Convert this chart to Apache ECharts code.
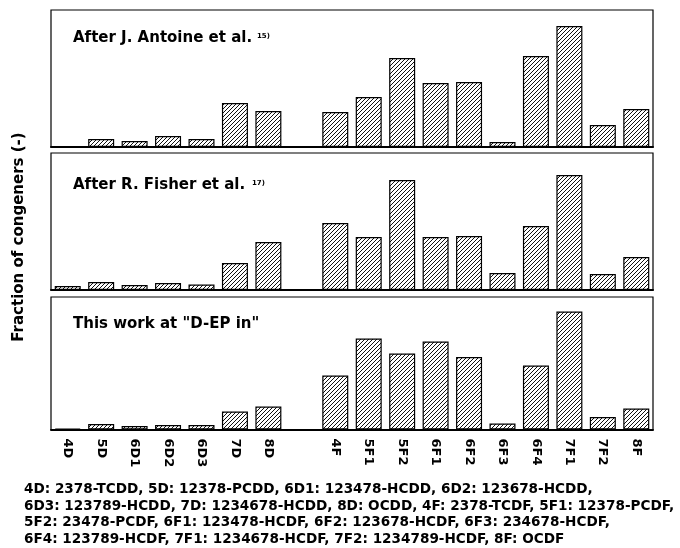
<!DOCTYPE html>
<html>
<head>
<meta charset="utf-8">
<script src="https://cdn.jsdelivr.net/npm/echarts@6/dist/echarts.min.js"></script>
<style>
  html, body { margin: 0; padding: 0; background: #fff; }
  #chart { width: 680px; height: 548px; }
</style>
</head>
<body>
<div id="chart"></div>
<script>
// congener categories (empty slot separates PCDD from PCDF)
const categories = ['4D', '5D', '6D1', '6D2', '6D3', '7D', '8D', '', '4F', '5F1', '5F2', '6F1', '6F2', '6F3', '6F4', '7F1', '7F2', '8F'];

// bar heights (arbitrary units, panel top = panelMax)
const antoine  = [0, 8, 6, 11, 8, 44, 36, null, 35, 50, 89, 64, 65, 5, 91, 121, 22, 38];
const fisher   = [4, 8, 5, 7, 5.5, 27, 48, null, 67, 53, 110, 53, 54, 17, 64, 115, 16, 33];
const thisWork = [1, 5.5, 3.5, 4.5, 4.5, 18, 23, null, 54, 91, 76, 88, 72.5, 6, 64, 118, 12.5, 21];
const panelMax = [137, 137, 132.5];

const panelTitles = ['After J. Antoine et al.', 'After R. Fisher et al.', 'This work at "D-EP in"'];
const panelRefs = ['15)', '17)', ''];
const yAxisName = 'Fraction of congeners (-)';
const captionLines = [
  '4D: 2378-TCDD, 5D: 12378-PCDD, 6D1: 123478-HCDD, 6D2: 123678-HCDD,',
  '6D3: 123789-HCDD, 7D: 1234678-HCDD, 8D: OCDD, 4F: 2378-TCDF, 5F1: 12378-PCDF,',
  '5F2: 23478-PCDF, 6F1: 123478-HCDF, 6F2: 123678-HCDF, 6F3: 234678-HCDF,',
  '6F4: 123789-HCDF, 7F1: 1234678-HCDF, 7F2: 1234789-HCDF, 8F: OCDF'
];

const FONT = '"DejaVu Sans", sans-serif';

// diagonal hatch fill
function makeHatch() {
  var c = document.createElement('canvas');
  c.width = 4; c.height = 4;
  var ctx = c.getContext('2d');
  ctx.fillStyle = '#fff';
  ctx.fillRect(0, 0, 4, 4);
  ctx.strokeStyle = '#111';
  ctx.lineWidth = 1;
  ctx.beginPath();
  ctx.moveTo(0, 4); ctx.lineTo(4, 0);
  ctx.moveTo(-1, 1); ctx.lineTo(1, -1);
  ctx.moveTo(3, 5); ctx.lineTo(5, 3);
  ctx.stroke();
  return c;
}
const hatch = { image: makeHatch(), repeat: 'repeat' };

const chart = echarts.init(document.getElementById('chart'), null, { renderer: 'canvas' });

const panelData = [antoine, fisher, thisWork];
const gridTops = [10, 153, 297];
const gridHeights = [137, 137, 132.5];

const grids = [], xAxes = [], yAxes = [], series = [];
panelData.forEach(function (vals, i) {
  grids.push({
    left: 51, width: 602, top: gridTops[i], height: gridHeights[i],
    show: true, borderColor: '#000', borderWidth: 1.2, backgroundColor: 'transparent'
  });
  xAxes.push({
    type: 'category',
    gridIndex: i,
    data: categories,
    axisTick: { show: false },
    axisLine: { show: true, lineStyle: { color: '#000', width: 2 } },
    axisLabel: {
      show: i === 2,
      interval: 0,
      rotate: -90,
      margin: 9,
      color: '#000',
      fontFamily: FONT,
      fontWeight: 'bold',
      fontSize: 13
    },
    splitLine: { show: false }
  });
  yAxes.push({ type: 'value', gridIndex: i, min: 0, max: panelMax[i], show: false });
  series.push({
    type: 'bar',
    xAxisIndex: i,
    yAxisIndex: i,
    data: vals,
    barWidth: 26,
    silent: true,
    itemStyle: { color: hatch, borderColor: '#000', borderWidth: 1.2 }
  });
});

const titleY = [31, 178, 317];
const refX = [257, 252, 0];
const graphics = [];
panelTitles.forEach(function (t, i) {
  graphics.push({
    type: 'text', left: 73, top: titleY[i],
    style: { text: t, font: 'bold 15px ' + FONT, fill: '#000' }
  });
  if (panelRefs[i]) {
    graphics.push({
      type: 'text', left: refX[i], top: titleY[i] + 2,
      style: { text: panelRefs[i], font: 'bold 7px ' + FONT, fill: '#000' }
    });
  }
});
graphics.push({
  type: 'text', x: 19, y: 237, rotation: Math.PI / 2,
  style: { text: yAxisName, font: 'bold 15px ' + FONT, fill: '#000', align: 'center', verticalAlign: 'middle' }
});
graphics.push({
  type: 'text', left: 24, top: 481,
  style: { text: captionLines.join('\n'), font: 'bold 13.6px ' + FONT, lineHeight: 16.7, fill: '#000' }
});

chart.setOption({
  animation: false,
  backgroundColor: '#fff',
  grid: grids,
  xAxis: xAxes,
  yAxis: yAxes,
  series: series,
  graphic: graphics
});
</script>
</body>
</html>
